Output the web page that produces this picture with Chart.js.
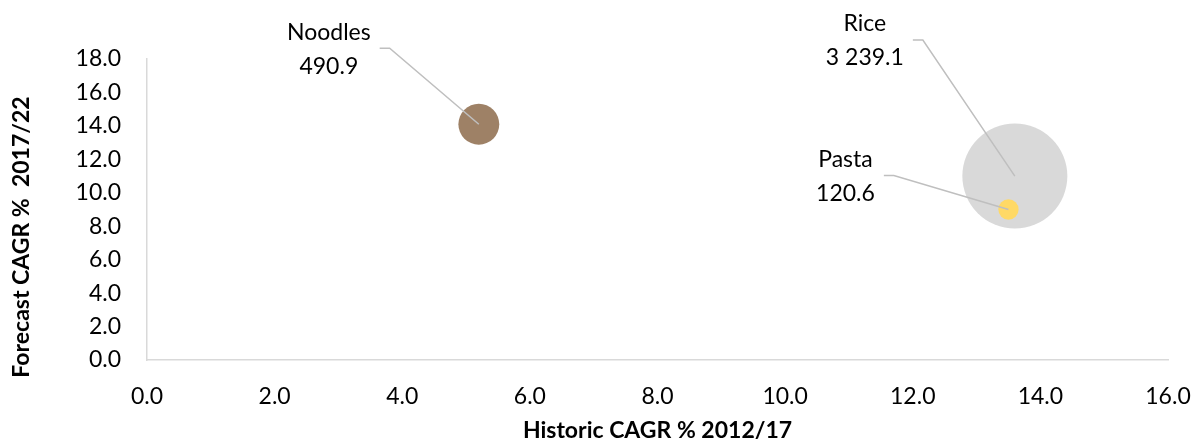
<!DOCTYPE html>
<html lang="en">
  <head>
    <meta charset="UTF-8" />
    <title>CAGR bubble chart</title>
    <script src="https://cdn.jsdelivr.net/npm/chart.js"></script>
    <style>
      html, body { margin: 0; padding: 0; background: #fff; }
      #wrap { width: 1194px; height: 445px; }
    </style>
  </head>
  <body>
    <div id="wrap"><canvas id="bubbleChart"></canvas></div>
    <script>
      const categories = ["Noodles", "Rice", "Pasta"];
      const historicCagr = [5.2, 13.6, 13.5];
      const forecastCagr = [14.1, 11.0, 9.0];
      const marketSize = [490.9, 3239.1, 120.6];
      const sizeLabels = ["490.9", "3 239.1", "120.6"];
      const xTicks = [0, 2, 4, 6, 8, 10, 12, 14, 16];
      const yTicks = [0, 2, 4, 6, 8, 10, 12, 14, 16, 18];

      const colors = ["#9e8166", "#d9d9d9", "#ffd966"];
      // label block offset from bubble centre, in px
      const labelOffsets = [[-150, -75], [-150, -135], [-163, -33]];
      const maxRadius = 52.5;
      const maxSize = Math.max(...marketSize);
      const font = "Lato";

      const labelPlugin = {
        id: "labels",
        afterDatasetsDraw(chart) {
          const ctx = chart.ctx;
          const meta = chart.getDatasetMeta(0);
          ctx.save();
          ctx.font = "23px " + font;
          meta.data.forEach((pt, i) => {
            const cx = pt.x + labelOffsets[i][0];
            const cy = pt.y + labelOffsets[i][1];
            const w = Math.max(
              ctx.measureText(categories[i]).width,
              ctx.measureText(sizeLabels[i]).width
            );
            const sx = cx + w / 2 + 9;
            const sy = cy - 1;
            ctx.strokeStyle = "#bfbfbf";
            ctx.lineWidth = 1.5;
            ctx.beginPath();
            ctx.moveTo(sx, sy);
            ctx.lineTo(sx + 10, sy);
            ctx.lineTo(pt.x, pt.y);
            ctx.stroke();
            ctx.fillStyle = "#000";
            ctx.textAlign = "center";
            ctx.textBaseline = "middle";
            ctx.fillText(categories[i], cx, cy - 17);
            ctx.fillText(sizeLabels[i], cx, cy + 17);
          });
          // y axis title, placed like the original (below centre)
          ctx.translate(22, 237);
          ctx.rotate(-Math.PI / 2);
          ctx.font = "bold 23px " + font;
          ctx.fillText("Forecast CAGR %  2017/22", 0, 0);
          ctx.restore();
        },
      };

      new Chart(document.getElementById("bubbleChart"), {
        type: "bubble",
        data: {
          datasets: [
            {
              label: "Market size",
              data: categories.map((c, i) => ({
                x: historicCagr[i],
                y: forecastCagr[i],
                r: maxRadius * Math.sqrt(marketSize[i] / maxSize),
              })),
              backgroundColor: colors,
              borderWidth: 0,
              hoverRadius: 0,
            },
          ],
        },
        options: {
          responsive: true,
          maintainAspectRatio: false,
          animation: false,
          events: [],
          layout: {
            autoPadding: false,
            padding: { left: 0, right: 26, top: 59, bottom: 0 },
          },
          plugins: {
            legend: { display: false },
            tooltip: { enabled: false },
          },
          scales: {
            x: {
              type: "linear",
              min: 0,
              max: 16,
              afterFit: (s) => {
                s.height = 85;
                s.paddingLeft = 0;
                s.paddingRight = 0;
              },
              afterBuildTicks: (s) => { s.ticks = xTicks.map((v) => ({ value: v })); },
              grid: { display: false, drawTicks: false },
              border: { color: "#d9d9d9", width: 1.5 },
              ticks: {
                padding: 23,
                color: "#000",
                font: { family: font, size: 23 },
                callback: (v) => v.toFixed(1),
              },
              title: {
                display: true,
                text: "Historic CAGR % 2012/17",
                color: "#000",
                font: { family: font, size: 23, weight: "bold" },
                padding: { top: 0, bottom: 1 },
              },
            },
            y: {
              type: "linear",
              min: 0,
              max: 18,
              afterFit: (s) => {
                s.width = 147;
                s.paddingTop = 0;
                s.paddingBottom = 0;
              },
              afterBuildTicks: (s) => { s.ticks = yTicks.map((v) => ({ value: v })); },
              grid: { display: false, drawTicks: false },
              border: { color: "#d9d9d9", width: 1.5 },
              ticks: {
                padding: 26,
                color: "#000",
                font: { family: font, size: 23 },
                callback: (v) => v.toFixed(1),
              },
            },
          },
        },
        plugins: [labelPlugin],
      });
    </script>
  </body>
</html>
